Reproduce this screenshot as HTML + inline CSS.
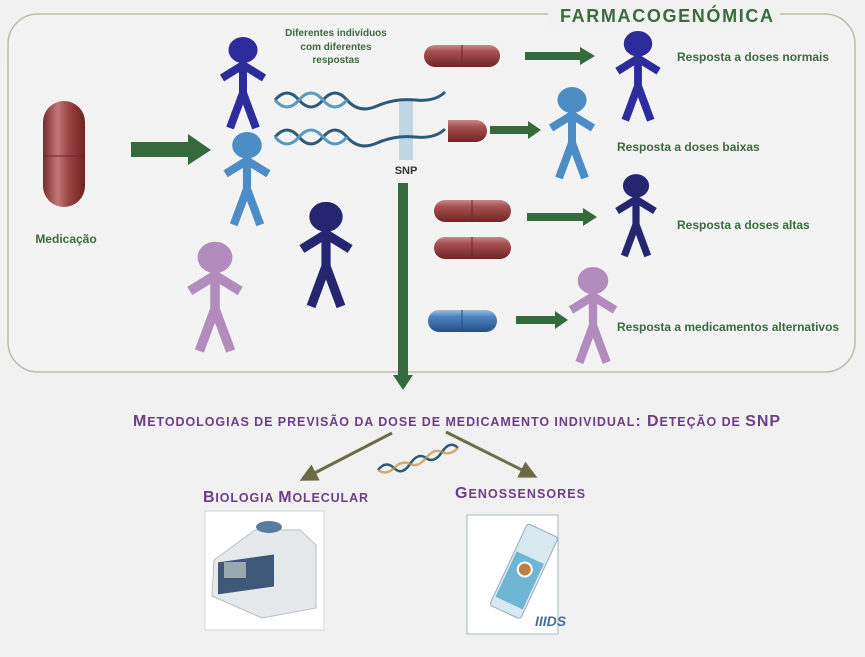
<!DOCTYPE html>
<html><head><meta charset="utf-8"><style>
body{margin:0;background:#f1f1f1;width:865px;height:652px;overflow:hidden;font-family:"Liberation Sans",sans-serif}
</style></head><body>
<svg width="865" height="652" xmlns="http://www.w3.org/2000/svg">
<defs>
<linearGradient id="rp" x1="0" y1="0" x2="0" y2="1"><stop offset="0" stop-color="#c98a8a"/><stop offset=".3" stop-color="#a85050"/><stop offset="1" stop-color="#6e2626"/></linearGradient>
<linearGradient id="rv" x1="0" y1="0" x2="1" y2="0"><stop offset="0" stop-color="#7a2c2c"/><stop offset=".35" stop-color="#c27777"/><stop offset=".6" stop-color="#9c4444"/><stop offset="1" stop-color="#6e2222"/></linearGradient>
<linearGradient id="bp" x1="0" y1="0" x2="0" y2="1"><stop offset="0" stop-color="#9bbfe0"/><stop offset=".3" stop-color="#4f83bd"/><stop offset="1" stop-color="#244f86"/></linearGradient>
<g id="fig"><ellipse cx="0" cy="12" rx="14" ry="12.5"/><path d="M0 22V58M-21 40L0 27L21 40M-13 90L0 55L13 90" stroke-width="8" fill="none" stroke-linejoin="round"/></g>
<marker id="ah" markerWidth="6" markerHeight="6" refX="4" refY="3" orient="auto"><path d="M0,0L6,3L0,6z" fill="#6b6b45"/></marker>
</defs>
<rect x="8" y="14" width="847" height="358" rx="30" fill="#f3f3f3" stroke="#b9bfa6" stroke-width="1.5"/>
<rect x="548" y="4" width="232" height="22" fill="#f1f1f1"/>
<text x="560" y="22" textLength="213" font-size="18" font-weight="bold" fill="#3b6a3e">FARMACOGENÓMICA</text>

<rect x="43" y="101" width="42" height="106" rx="21" fill="url(#rv)"/>
<line x1="43" y1="156" x2="85" y2="156" stroke="#6e2626" stroke-width="1"/>
<text x="66" y="243" text-anchor="middle" font-size="12" font-weight="bold" fill="#3b6a3e">Medicação</text>

<g fill="#356a3c">
<path d="M131 142H188V134L211 150L188 165V157H131Z"/>
<path d="M525 52H580V47L595 56L580 65V60H525Z"/>
<path d="M490 126H528V121L541 130L528 139V134H490Z"/>
<path d="M527 213H583V208L597 217L583 226V221H527Z"/>
<path d="M516 316H555V311L568 320L555 329V324H516Z"/>
<path d="M398 183H408V375H413L403 390L393 375H398Z"/>
</g>

<use href="#fig" transform="translate(243,38)" fill="#2c2c9c" stroke="#2c2c9c"/>
<use href="#fig" transform="translate(247,133) scale(1.02)" fill="#4d8dc6" stroke="#4d8dc6"/>
<use href="#fig" transform="translate(326,203) scale(1.15)" fill="#252570" stroke="#252570"/>
<use href="#fig" transform="translate(215,243) scale(1.2)" fill="#b28cbd" stroke="#b28cbd"/>
<use href="#fig" transform="translate(638,32) scale(.98)" fill="#2c2c9c" stroke="#2c2c9c"/>
<use href="#fig" transform="translate(572,88) scale(1)" fill="#4d8dc6" stroke="#4d8dc6"/>
<use href="#fig" transform="translate(636,175) scale(.9)" fill="#252570" stroke="#252570"/>
<use href="#fig" transform="translate(593,268) scale(1.05)" fill="#b28cbd" stroke="#b28cbd"/>

<text font-size="10" fill="#3b6a3e" text-anchor="middle" font-weight="bold"><tspan x="336" y="36">Diferentes indivíduos</tspan><tspan x="336" y="50">com diferentes</tspan><tspan x="336" y="63">respostas</tspan></text>

<rect x="399" y="100" width="14" height="60" fill="#a9c9dc" opacity=".7"/>
<g fill="none" stroke-width="3">
<path d="M275 100 q12 -14 24 0 t24 0 t24 0 t30 6 t38 -6 t30 -8" stroke="#2d5a7a"/>
<path d="M275 100 q12 14 24 0 t24 0 t24 0" stroke="#5a9ac0"/>
<path d="M275 137 q12 -14 24 0 t24 0 t24 0 t30 6 t38 -6 t30 -8" stroke="#2d5a7a"/>
<path d="M275 137 q12 14 24 0 t24 0 t24 0" stroke="#5a9ac0"/>
</g>
<text x="406" y="174" text-anchor="middle" font-size="11" font-weight="bold" fill="#333">SNP</text>

<g>
<rect x="424" y="45" width="76" height="22" rx="11" fill="url(#rp)"/><line x1="462" y1="45" x2="462" y2="67" stroke="#6e2626"/>
<path d="M448 120H476A11 11 0 0 1 476 142H448Z" fill="url(#rp)"/>
<rect x="434" y="200" width="77" height="22" rx="11" fill="url(#rp)"/><line x1="472" y1="200" x2="472" y2="222" stroke="#6e2626"/>
<rect x="434" y="237" width="77" height="22" rx="11" fill="url(#rp)"/><line x1="472" y1="237" x2="472" y2="259" stroke="#6e2626"/>
<rect x="428" y="310" width="69" height="22" rx="11" fill="url(#bp)"/><line x1="462" y1="310" x2="462" y2="332" stroke="#244f86"/>
</g>

<g font-size="12" font-weight="bold" fill="#3b6a3e">
<text x="677" y="61">Resposta a doses normais</text>
<text x="617" y="151">Resposta a doses baixas</text>
<text x="677" y="229">Resposta a doses altas</text>
<text x="617" y="331">Resposta a medicamentos alternativos</text>
</g>

<text x="133" y="426" textLength="647" lengthAdjust="spacing" font-size="16" font-weight="bold" fill="#6b3f88">M<tspan font-size="12.5">ETODOLOGIAS DE PREVISÃO  DA DOSE DE MEDICAMENTO INDIVIDUAL</tspan>: D<tspan font-size="12.5">ETEÇÃO DE </tspan>SNP</text>

<g stroke="#6b6b45" stroke-width="3" fill="none">
<line x1="392" y1="433" x2="305" y2="478" marker-end="url(#ah)"/>
<line x1="446" y1="432" x2="532" y2="475" marker-end="url(#ah)"/>
</g>
<g fill="none" stroke-width="2.5">
<path d="M378 470 q8 -10 16 -2 t16 -4 t16 -6 t16 -6 t16 -4" stroke="#2d5a7a"/>
<path d="M378 470 q8 6 16 -2 t16 -4 t16 -6 t16 -6 t16 -4" stroke="#c09040" opacity=".7"/>
</g>

<text x="203" y="502" textLength="165" font-size="16" font-weight="bold" fill="#6b3f88">B<tspan font-size="12.5">IOLOGIA </tspan>M<tspan font-size="12.5">OLECULAR</tspan></text>
<text x="455" y="498" textLength="130" font-size="16" font-weight="bold" fill="#6b3f88">G<tspan font-size="12.5">ENOSSENSORES</tspan></text>

<rect x="205" y="511" width="119" height="119" fill="#fff" stroke="#cfd8d8"/>
<path d="M214 560L255 530H300L316 545V608L262 618L212 596Z" fill="#e6e9ec" stroke="#b8bec4"/>
<rect x="218" y="558" width="56" height="32" fill="#3d5878" transform="skewY(-8) translate(0,35)"/>
<rect x="224" y="562" width="22" height="16" fill="#9aa8b0"/>
<ellipse cx="269" cy="527" rx="13" ry="6" fill="#5a7d9c"/>

<rect x="467" y="515" width="91" height="119" fill="#fff" stroke="#9fbcc0"/>
<g transform="rotate(25 520 575)">
<rect x="505" y="525" width="34" height="90" rx="3" fill="#d8e8f0" stroke="#9ab"/>
<rect x="507" y="555" width="30" height="50" fill="#6fb6d4"/>
<circle cx="522" cy="568" r="7" fill="#c08040" stroke="#fff" stroke-width="2"/>
</g>
<text x="535" y="626" font-size="14" font-weight="bold" font-style="italic" fill="#4a6e9c">IIIDS</text>
</svg>
</body></html>
